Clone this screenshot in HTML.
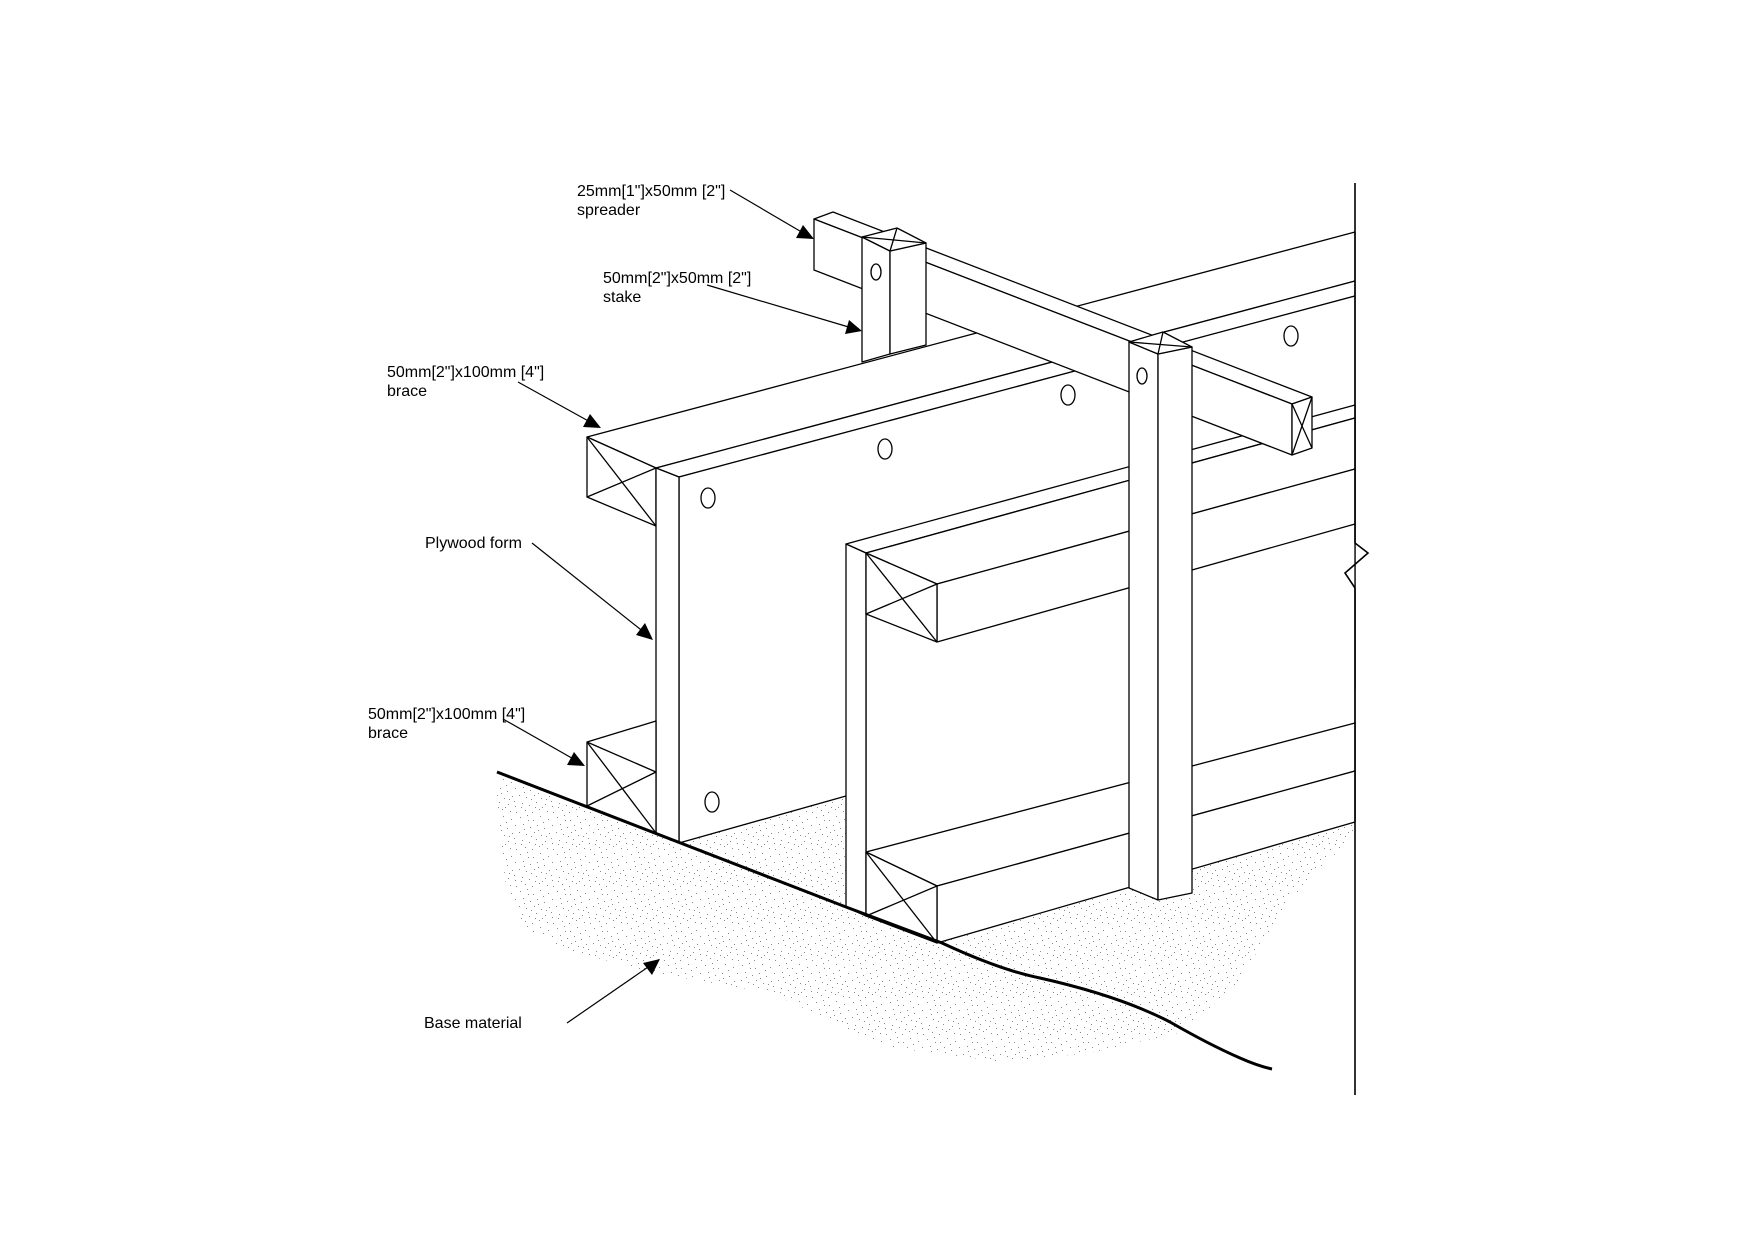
<!DOCTYPE html>
<html><head><meta charset="utf-8"><style>
html,body{margin:0;padding:0;background:#fff;}
svg{display:block;}
text{font-family:"Liberation Sans",Arial,sans-serif;font-size:16px;fill:#000;}
</style></head><body>
<svg width="1755" height="1240" viewBox="0 0 1755 1240" xmlns="http://www.w3.org/2000/svg">
<defs>
<pattern id="st" width="37" height="37" patternUnits="userSpaceOnUse">
<g fill="#8a8a8a">
<rect x="2" y="3" width="1" height="1"/><rect x="9" y="1" width="1" height="1"/><rect x="15" y="6" width="1" height="1"/>
<rect x="22" y="2" width="1" height="1"/><rect x="30" y="5" width="1" height="1"/><rect x="34" y="11" width="1" height="1"/>
<rect x="5" y="10" width="1" height="1"/><rect x="12" y="13" width="1" height="1"/><rect x="19" y="11" width="1" height="1"/>
<rect x="26" y="14" width="1" height="1"/><rect x="1" y="18" width="1" height="1"/><rect x="8" y="20" width="1" height="1"/>
<rect x="16" y="18" width="1" height="1"/><rect x="23" y="21" width="1" height="1"/><rect x="31" y="19" width="1" height="1"/>
<rect x="4" y="26" width="1" height="1"/><rect x="11" y="28" width="1" height="1"/><rect x="18" y="25" width="1" height="1"/>
<rect x="27" y="27" width="1" height="1"/><rect x="34" y="29" width="1" height="1"/><rect x="7" y="33" width="1" height="1"/>
<rect x="14" y="35" width="1" height="1"/><rect x="21" y="32" width="1" height="1"/><rect x="29" y="34" width="1" height="1"/>
<rect x="25" y="8" width="1" height="1"/><rect x="33" y="24" width="1" height="1"/><rect x="13" y="22" width="1" height="1"/>
<rect x="20" y="16" width="1" height="1"/><rect x="3" y="30" width="1" height="1"/><rect x="17" y="30" width="1" height="1"/>
<rect x="6" y="15" width="1" height="1"/><rect x="28" y="22" width="1" height="1"/><rect x="10" y="6" width="1" height="1"/>
<rect x="35" y="35" width="1" height="1"/><rect x="24" y="30" width="1" height="1"/>
</g>
</pattern>
</defs>

<!-- stipple base -->
<path d="M497,772 L656,833 L656,700 L1354,600 L1354,833 L1340,850 L1317,870 L1282,910 L1236,987 L1178,1033 L1090,1053 L1003,1062 L887,1047 L771,993 L654,973 L567,950 L520,925 L505,880 L497,800 Z" fill="url(#st)"/>

<g stroke="#000" stroke-width="1.3" fill="#fff" stroke-linejoin="round">
<!-- upper brace 1 -->
<polygon points="587,437 1355,232 1355,281 656,468"/>
<polygon points="587,437 656,468 656,526 587,497"/>
<line x1="587" y1="437" x2="656" y2="526"/><line x1="587" y1="497" x2="656" y2="468"/>
<!-- plywood form 1 -->
<polygon points="656,468 1355,281 1355,296 679,477"/>
<polygon points="679,477 1355,296 1355,690 846,796 679,843"/>
<polygon points="656,468 679,477 679,843 656,833"/>
<ellipse cx="708" cy="498" rx="7" ry="10"/>
<ellipse cx="885" cy="449" rx="7" ry="10"/>
<ellipse cx="1068" cy="395" rx="7" ry="10"/>
<ellipse cx="1291" cy="336" rx="7" ry="10"/>
<ellipse cx="712" cy="802" rx="7" ry="10"/>
<!-- lower brace 1 -->
<polygon points="587,742 656,721 656,833 587,806"/>
<line x1="587" y1="742" x2="656" y2="772"/><line x1="587" y1="742" x2="656" y2="833"/><line x1="587" y1="806" x2="656" y2="772"/>

<!-- form 2 -->
<polygon points="846,544 1355,405 1355,418 866,553"/>
<polygon points="866,553 1355,418 1355,822 866,916"/>
<polygon points="846,544 866,553 866,916 846,907"/>
<!-- upper brace 2 -->
<polygon points="866,553 1355,418 1355,469 937,584"/>
<polygon points="937,584 1355,469 1355,524 937,642"/>
<polygon points="866,553 937,584 937,642 866,614"/>
<line x1="866" y1="553" x2="937" y2="642"/><line x1="866" y1="614" x2="937" y2="584"/>
<!-- lower brace 2 -->
<polygon points="866,852 1355,723 1355,771 937,886"/>
<polygon points="937,886 1355,771 1355,822 937,943"/>
<polygon points="866,852 937,886 937,943 866,916"/>
<line x1="866" y1="852" x2="937" y2="943"/><line x1="866" y1="916" x2="937" y2="886"/>

<!-- spreader -->
<polygon points="814,219 833,212 1312,397 1292,404"/>
<polygon points="814,219 1292,404 1292,455 814,270"/>
<polygon points="1292,404 1312,397 1312,448 1292,455"/>
<line x1="1292" y1="404" x2="1312" y2="448"/><line x1="1292" y1="455" x2="1312" y2="397"/>

<!-- stake 1 -->
<polygon points="862,237 890,251 890,354 862,362"/>
<polygon points="890,251 926,243 926,345 890,354"/>
<polygon points="862,237 897,228 926,243 890,251"/>
<line x1="862" y1="237" x2="926" y2="243"/><line x1="890" y1="251" x2="897" y2="228"/>
<ellipse cx="876" cy="272" rx="5" ry="8"/>

<!-- stake 2 -->
<polygon points="1129,342 1158,354 1158,900 1129,888"/>
<polygon points="1158,354 1192,347 1192,893 1158,900"/>
<polygon points="1129,342 1163,332 1192,347 1158,354"/>
<line x1="1129" y1="342" x2="1192" y2="347"/><line x1="1158" y1="354" x2="1163" y2="332"/>
<ellipse cx="1142" cy="376" rx="5" ry="8"/>
</g>

<!-- wall line -->
<polyline points="1355,183 1355,543 1368,553 1345,573 1355,588 1355,1095" fill="none" stroke="#000" stroke-width="1.6"/>

<!-- ground line -->
<path d="M497,772 L846,907 L942,943 Q1000,970 1040,978 Q1120,996 1170,1022 Q1210,1045 1240,1058 Q1258,1066 1272,1069" fill="none" stroke="#000" stroke-width="3" stroke-linejoin="round"/>

<!-- leaders -->
<g stroke="#000" stroke-width="1.2">
<line x1="730" y1="190" x2="805" y2="234"/>
<line x1="707" y1="285" x2="852" y2="328"/>
<line x1="518" y1="382" x2="592" y2="423"/>
<line x1="532" y1="543" x2="645" y2="633"/>
<line x1="503" y1="719" x2="577" y2="761"/>
<line x1="567" y1="1023" x2="651" y2="965"/>
</g>
<g fill="#000">
<polygon points="814,239 796,238 803,225"/>
<polygon points="862,331 845,334 849,320"/>
<polygon points="601,428 583,427 590,414"/>
<polygon points="653,640 636,635 645,623"/>
<polygon points="585,766 567,765 574,752"/>
<polygon points="660,959 652,975 643,963"/>
</g>

<!-- labels -->
<text x="577" y="196">25mm[1"]x50mm [2"]</text>
<text x="577" y="215">spreader</text>
<text x="603" y="283">50mm[2"]x50mm [2"]</text>
<text x="603" y="302">stake</text>
<text x="387" y="377">50mm[2"]x100mm [4"]</text>
<text x="387" y="396">brace</text>
<text x="425" y="548">Plywood form</text>
<text x="368" y="719">50mm[2"]x100mm [4"]</text>
<text x="368" y="738">brace</text>
<text x="424" y="1028">Base material</text>
</svg>
</body></html>
